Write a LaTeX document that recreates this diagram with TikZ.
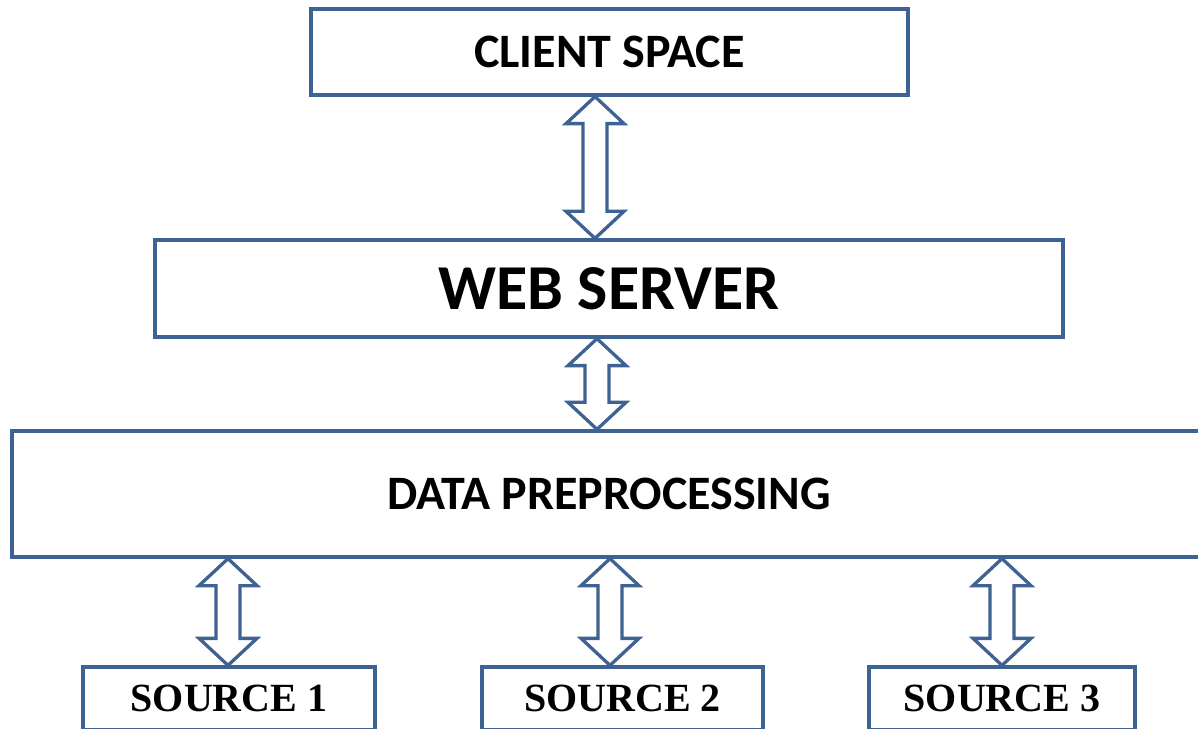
\documentclass[tikz,border=0pt]{standalone}
\usepackage{fontspec}
\setmainfont{Liberation Serif}
\newfontfamily\calib{Carlito}
\usetikzlibrary{calc}
\definecolor{boxblue}{RGB}{62,98,146}
\tikzset{
  x=1pt, y=1pt,
  blk/.style={draw=boxblue, line width=3.3pt, fill=white, inner sep=0pt, align=center},
  calibtext/.style={font=\calib\bfseries\fontsize{48}{52}\selectfont},
  srctext/.style={font=\bfseries\fontsize{40}{44}\selectfont},
  dbl/.style={draw=boxblue, line width=3.3pt, fill=white, line join=miter},
}
% double arrow between two named coordinates (top tip, bottom tip)
\newcommand\twoway[2]{%
  \draw[dbl] (#1) -- ++(29,-27) -- ++(-17,0) -- ($(#2)+(12,27)$) -- ++(17,0)
    -- (#2) -- ++(-29,27) -- ++(17,0) -- ($(#1)+(-12,-27)$) -- ++(-17,0) -- cycle;}
\begin{document}
\begin{tikzpicture}
\useasboundingbox (0,0) rectangle (1198,728);
\node[blk, calibtext, minimum width=597, minimum height=86] (client) at (609.5,676) {CLIENT SPACE};
\node[blk, font=\calib\bfseries\fontsize{64}{68}\selectfont, minimum width=908, minimum height=97] (web) at (609,439.5) {WEB SERVER};
\node[blk, calibtext, minimum width=1194, minimum height=126] (data) at (609,234) {DATA PREPROCESSING};
\node[blk, srctext, minimum width=292, minimum height=63] (s1) at (229,29.5) {SOURCE 1};
\node[blk, srctext, minimum width=281, minimum height=63] (s2) at (622.5,29.5) {SOURCE 2};
\node[blk, srctext, minimum width=266, minimum height=63] (s3) at (1002,29.5) {SOURCE 3};
% arrow end points
\coordinate (a1t) at (client.south -| 595,0);
\coordinate (a1b) at (web.north -| 595,0);
\coordinate (a2t) at (web.south -| 597,0);
\coordinate (a2b) at (data.north -| 597,0);
\coordinate (a3t) at (data.south -| 228,0);
\coordinate (a3b) at (s1.north -| 228,0);
\coordinate (a4t) at (data.south -| 610,0);
\coordinate (a4b) at (s2.north -| 610,0);
\coordinate (a5t) at (data.south -| 1002,0);
\coordinate (a5b) at (s3.north -| 1002,0);
\twoway{a1t}{a1b}
\twoway{a2t}{a2b}
\twoway{a3t}{a3b}
\twoway{a4t}{a4b}
\twoway{a5t}{a5b}
\end{tikzpicture}
\end{document}
